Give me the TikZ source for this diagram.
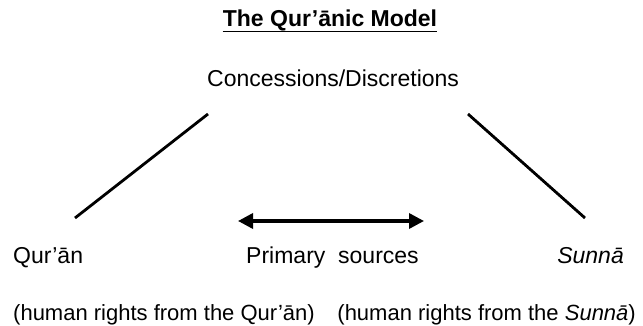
\documentclass[tikz,border=0pt]{standalone}
\usepackage{fontspec}
\setmainfont{Liberation Sans}
\usetikzlibrary{arrows.meta}
\begin{document}
\begin{tikzpicture}[x=1pt,y=-1pt,
  txt/.style={inner sep=0pt, font=\fontsize{23}{27}\selectfont},
  small/.style={inner sep=0pt, font=\fontsize{22}{26}\selectfont},
  ttl/.style={inner sep=0pt, font=\bfseries\fontsize{23}{27}\selectfont},
  link/.style={line width=2.8pt},
  dbl/.style={line width=3.4pt, {Triangle[length=15pt,width=15pt]}-{Triangle[length=15pt,width=15pt]}}]
\useasboundingbox (0,0) rectangle (643,326);
\node[ttl, anchor=base] (title) at (330,27) {The Qur’ānic Model};
\draw[line width=1.6pt] ([yshift=-4.5pt]title.base west) -- ([yshift=-4.5pt]title.base east);
\node[txt, anchor=base west] (conc) at (207,87) {Concessions/Discretions};
\node[txt, anchor=base west] (quran) at (13,263) {Qur’ān};
\node[txt, anchor=base west] (prim) at (246,263) {Primary\ \ sources};
\node[txt, anchor=base east] (sunna) at (624,263) {\itshape Sunnā};
\node[small, anchor=base west] (hq) at (13,320) {(human rights from the Qur’ān)};
\node[small, anchor=base east] (hs) at (636,320) {(human rights from the \textit{Sunnā})};
\coordinate (l1) at (208,114);
\coordinate (l2) at (75,218);
\coordinate (r1) at (468,114);
\coordinate (r2) at (585,218);
\coordinate (a1) at (238,221);
\coordinate (a2) at (424,221);
\draw[link] (l1) -- (l2);
\draw[link] (r1) -- (r2);
\draw[dbl] (a1) -- (a2);
\end{tikzpicture}
\end{document}
